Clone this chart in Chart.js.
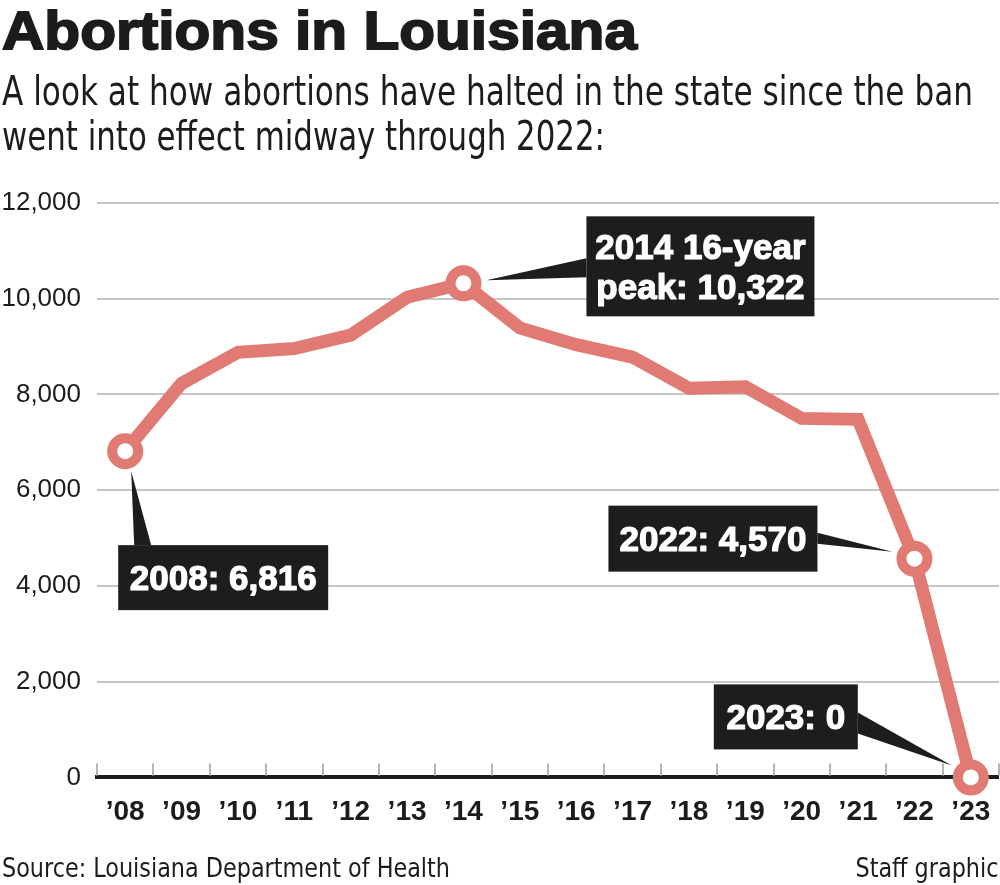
<!DOCTYPE html>
<html>
<head>
<meta charset="utf-8">
<script src="https://cdn.jsdelivr.net/npm/chart.js@4.4.1/dist/chart.umd.min.js"></script>
<style>
html,body{margin:0;padding:0;background:#fff;}
#wrap{position:relative;width:1000px;height:885px;overflow:hidden;background:#fff;}
#chart{position:absolute;left:0;top:0;}
.t{position:absolute;white-space:nowrap;color:#1c1c1c;line-height:1;margin:0;}
</style>
</head>
<body>
<div id="wrap">
  <canvas id="chart" width="1000" height="885"></canvas>
</div>
<script>
// ---- data ----
const years = ['2008','2009','2010','2011','2012','2013','2014','2015','2016','2017','2018','2019','2020','2021','2022','2023'];
const tickLabels = ['\u201908','\u201909','\u201910','\u201911','\u201912','\u201913','\u201914','\u201915','\u201916','\u201917','\u201918','\u201919','\u201920','\u201921','\u201922','\u201923'];
const abortions = [6816, 8230, 8880, 8960, 9240, 10030, 10322, 9390, 9040, 8780, 8130, 8160, 7500, 7480, 4570, 0];
const highlighted = ['2008','2014','2022','2023'];
const yTicks = [0, 2000, 4000, 6000, 8000, 10000, 12000];
const noteYears = ['2008','2014','2022','2023'];
const noteTexts = [['2008: 6,816'], ['2014 16-year','peak: 10,322'], ['2022: 4,570'], ['2023: 0']];

const titleText = 'Abortions in Louisiana';
const subtitleLines = ['A look at how abortions have halted in the state since the ban', 'went into effect midway through 2022:'];
const sourceText = 'Source: Louisiana Department of Health';
const creditText = 'Staff graphic';

// ---- layout of notes relative to their point (pixels) ----
const noteGeom = {
  '2008': {box:[-7, 94, 210, 65], tip:[6, 20], b1:[9, 94], b2:[26, 94]},
  '2014': {box:[123, -67, 228, 100], tip:[23, -3], b1:[123, -25], b2:[123, -6]},
  '2022': {box:[-306, -53, 209, 66], tip:[-22, -7], b1:[-97, -26], b2:[-97, -15]},
  '2023': {box:[-257, -93, 144, 65], tip:[-19, -12], b1:[-113, -65], b2:[-113, -44]}
};

const NARROW = '"Liberation Sans Narrow", "DejaVu Sans Condensed", "Liberation Sans", sans-serif';
const SANS = '"Liberation Sans", Arial, sans-serif';

function placeText(text, font, x, baseline, width, align, extra){
  const el = document.createElement('div');
  el.className = 't';
  el.textContent = text;
  el.style.font = font;
  el.style.lineHeight = '1';
  if (extra) Object.assign(el.style, extra);
  document.getElementById('wrap').appendChild(el);
  const c = document.createElement('canvas').getContext('2d');
  c.font = font;
  const m = c.measureText(text);
  const size = parseFloat(font.match(/([\d.]+)px/)[1]);
  const asc = m.fontBoundingBoxAscent, desc = m.fontBoundingBoxDescent;
  const top = baseline - ((size - (asc + desc)) / 2 + asc);
  el.style.top = top + 'px';
  const sx = width / m.width;
  if (align === 'right') {
    el.style.right = (1000 - x) + 'px';
    el.style.transformOrigin = 'right top';
  } else {
    el.style.left = x + 'px';
    el.style.transformOrigin = 'left top';
  }
  el.style.transform = 'scaleX(' + sx.toFixed(4) + ')';
}

placeText(titleText, 'bold 54px ' + SANS, 2, 49, 635, 'left', {webkitTextStroke:'1.8px #1c1c1c'});
placeText(subtitleLines[0], '40px ' + NARROW, 2, 105, 971, 'left');
placeText(subtitleLines[1], '40px ' + NARROW, 2, 150, 603, 'left');
placeText(sourceText, '27px ' + NARROW, 2, 877, 448, 'left');
placeText(creditText, '27px ' + NARROW, 998, 877, 143, 'right');

const axisTicksPlugin = {
  id: 'axisTicks',
  beforeDatasetsDraw(chart){
    const {ctx, chartArea} = chart;
    const x = chart.scales.x;
    const n = years.length;
    const step = (chartArea.right - chartArea.left) / n;
    ctx.save();
    ctx.strokeStyle = '#b4b4b4';
    ctx.lineWidth = 2;
    for (let i = 0; i <= n; i++) {
      const px = Math.round(x.getPixelForValue(0) - step / 2 + i * step);
      ctx.beginPath();
      ctx.moveTo(px, chartArea.bottom - 14);
      ctx.lineTo(px, chartArea.bottom - 2);
      ctx.stroke();
    }
    ctx.restore();
  }
};

const notesPlugin = {
  id: 'notes',
  afterDatasetsDraw(chart){
    const {ctx} = chart;
    const xs = chart.scales.x, ys = chart.scales.y;
    ctx.save();
    noteYears.forEach((yr, k) => {
      const i = years.indexOf(yr);
      const px = xs.getPixelForValue(i);
      const py = ys.getPixelForValue(abortions[i]);
      const g = noteGeom[yr];
      ctx.fillStyle = '#1e1c1c';
      ctx.beginPath();
      ctx.moveTo(px + g.tip[0], py + g.tip[1]);
      ctx.lineTo(px + g.b1[0], py + g.b1[1]);
      ctx.lineTo(px + g.b2[0], py + g.b2[1]);
      ctx.closePath();
      ctx.fill();
      const bx = px + g.box[0], by = py + g.box[1], bw = g.box[2], bh = g.box[3];
      ctx.fillRect(bx, by, bw, bh);
      const lines = noteTexts[k];
      ctx.fillStyle = '#ffffff';
      ctx.strokeStyle = '#ffffff';
      ctx.lineWidth = 1.2;
      ctx.lineJoin = 'round';
      ctx.font = 'bold 35px ' + SANS;
      ctx.textAlign = 'center';
      ctx.textBaseline = 'alphabetic';
      const cy = by + bh / 2;
      lines.forEach((ln, j) => {
        const off = (j - (lines.length - 1) / 2) * 40;
        ctx.fillText(ln, bx + bw / 2, cy + off + 12.5);
        ctx.strokeText(ln, bx + bw / 2, cy + off + 12.5);
      });
    });
    ctx.restore();
  }
};

const lineColor = '#e07a73';

new Chart(document.getElementById('chart'), {
  type: 'line',
  data: {
    labels: tickLabels,
    datasets: [{
      data: abortions,
      borderColor: lineColor,
      borderWidth: 13,
      tension: 0,
      clip: false,
      pointRadius: ctx => highlighted.includes(years[ctx.dataIndex]) ? 13 : 0,
      pointHoverRadius: ctx => highlighted.includes(years[ctx.dataIndex]) ? 13 : 0,
      pointBorderWidth: 10,
      pointBorderColor: lineColor,
      pointBackgroundColor: '#ffffff'
    }]
  },
  options: {
    responsive: false,
    animation: false,
    events: [],
    layout: {autoPadding: false, padding: {top: 203, bottom: 56, left: 0, right: 1}},
    plugins: {legend: {display: false}, tooltip: {enabled: false}, title: {display: false}},
    scales: {
      x: {
        type: 'category',
        offset: true,
        afterFit: s => { s.paddingLeft = 0; s.paddingRight = 0; },
        grid: {display: true, drawOnChartArea: false, drawTicks: true, tickLength: 18, color: 'rgba(0,0,0,0)', tickColor: 'rgba(0,0,0,0)', lineWidth: 0},
        border: {display: true, color: '#1c1c1c', width: 4},
        ticks: {
          color: '#1c1c1c',
          font: {family: SANS, size: 28, weight: 'bold'},
          padding: 0,
          maxRotation: 0,
          autoSkip: false
        }
      },
      y: {
        min: 0,
        max: 12000,
        afterBuildTicks: s => { s.ticks = yTicks.map(v => ({value: v})); },
        afterFit: s => { s.width = 97; },
        grid: {
          drawTicks: false,
          color: c => (c.tick && c.tick.value === 0) ? 'rgba(0,0,0,0)' : '#c6c6c6',
          lineWidth: 2
        },
        border: {display: false},
        ticks: {
          color: '#1c1c1c',
          font: {family: SANS, size: 26},
          padding: 16,
          callback: v => v.toLocaleString('en-US')
        }
      }
    }
  },
  plugins: [axisTicksPlugin, notesPlugin]
});
</script>
</body>
</html>
